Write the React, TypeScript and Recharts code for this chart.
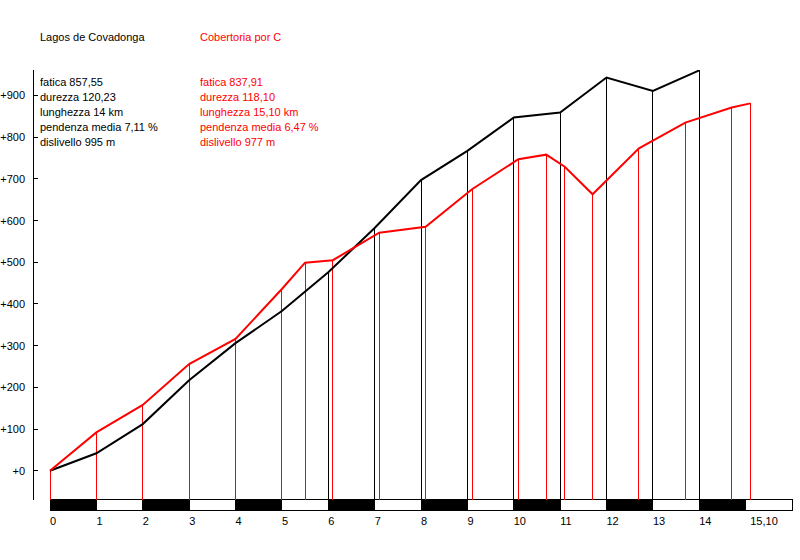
import React from "react";
import { LineChart, Line, XAxis, YAxis, ReferenceLine, ReferenceArea } from "recharts";

// Lagos de Covadonga (black)
const blackKm = [0, 1, 2, 3, 4, 5, 6, 7, 8, 9, 10, 11, 12, 13, 14];
const blackAlt = [0, 42, 112, 217, 306, 383, 476, 582, 697, 767, 847, 859, 943, 911, 960];

// Cobertoria por C (red)
const redKm = [0, 1, 2, 3, 4, 5, 5.5, 6.1, 7.1, 8.1, 9.1, 10.1, 10.7, 11.1, 11.7, 12.7, 13.7, 14.7, 15.1];
const redAlt = [0, 92, 158, 256, 316, 436, 499, 505, 571, 585, 675, 747, 758, 729, 663, 773, 835, 871, 881];

const xTicks = [0, 1, 2, 3, 4, 5, 6, 7, 8, 9, 10, 11, 12, 13, 14, 15.1];
const xTickLabels = ["0", "1", "2", "3", "4", "5", "6", "7", "8", "9", "10", "11", "12", "13", "14", "15,10"];
const yTicks = [0, 100, 200, 300, 400, 500, 600, 700, 800, 900];
const scaleSegments = [0, 1, 2, 3, 4, 5, 6, 7, 8, 9, 10, 11, 12, 13, 14, 15];

const blackTitle = "Lagos de Covadonga";
const redTitle = "Cobertoria por C";
const blackStats = ["fatica 857,55", "durezza 120,23", "lunghezza 14 km", "pendenza media 7,11 %", "dislivello 995 m"];
const redStats = ["fatica 837,91", "durezza 118,10", "lunghezza 15,10 km", "pendenza media 6,47 %", "dislivello 977 m"];

const X_MIN = -0.3666;
const X_MAX = 16;
const Y_MIN = -94;
const Y_MAX = 961;
const BAR_TOP = -70;

const FONT = "'Liberation Sans', Arial, sans-serif";
const RED = "#ff0000";

const blackData = blackKm.map((k, i) => ({ km: k, alt: blackAlt[i] }));
const redData = redKm.map((k, i) => ({ km: k, alt: redAlt[i] }));
// black drop lines hidden where a red drop line sits at the same distance
const blackDrops = blackData.filter((d) => !redKm.includes(d.km));

const YTick = (props: any) => {
  const { x, y, payload } = props;
  return (
    <g>
      <line x1={x} y1={y} x2={x + 5} y2={y} stroke="#000" strokeWidth={1} shapeRendering="crispEdges" />
      <text x={x - 8} y={y + 4} textAnchor="end" fontSize={11} fontFamily={FONT} fill="#000">
        {"+" + payload.value}
      </text>
    </g>
  );
};

const XTick = (props: any) => {
  const { x, y, payload } = props;
  const idx = xTicks.indexOf(payload.value);
  return (
    <text x={x} y={y + 15} textAnchor="start" fontSize={11} fontFamily={FONT} fill="#000">
      {xTickLabels[idx]}
    </text>
  );
};

export default function App() {
  return (
    <div style={{ position: "absolute", left: 0, top: 0, width: 800, height: 560, background: "#fff" }}>
      <LineChart
        width={800}
        height={560}
        margin={{ top: 70, right: 8, bottom: 30, left: 0 }}
      >
        <XAxis
          type="number"
          dataKey="km"
          domain={[X_MIN, X_MAX]}
          ticks={xTicks}
          axisLine={false}
          tickLine={false}
          tickSize={0}
          tickMargin={0}
          height={20}
          tick={<XTick />}
          interval={0}
          allowDataOverflow
        />
        <YAxis
          type="number"
          domain={[Y_MIN, Y_MAX]}
          ticks={yTicks}
          axisLine={false}
          tickLine={false}
          tickSize={0}
          tickMargin={0}
          width={33}
          tick={<YTick />}
          interval={0}
          allowDataOverflow
        />
        {scaleSegments.map((k) => (
          <ReferenceArea
            key={"seg" + k}
            x1={k}
            x2={k + 1}
            y1={Y_MIN}
            y2={BAR_TOP}
            fill={k % 2 === 0 ? "#000" : "#fff"}
            fillOpacity={1}
            stroke="#000"
            strokeWidth={1}
            shapeRendering="crispEdges"
            ifOverflow="visible"
          />
        ))}
        <ReferenceLine
          segment={[{ x: X_MIN, y: BAR_TOP }, { x: X_MIN, y: Y_MAX }]}
          stroke="#000"
          strokeWidth={1}
          shapeRendering="crispEdges"
          ifOverflow="visible"
        />
        {blackDrops.map((d) => (
          <ReferenceLine
            key={"bv" + d.km}
            segment={[{ x: d.km, y: BAR_TOP }, { x: d.km, y: d.alt }]}
            stroke="#000"
            strokeWidth={1}
            shapeRendering="crispEdges"
            ifOverflow="visible"
          />
        ))}
        {redData.map((d) => (
          <ReferenceLine
            key={"rv" + d.km}
            segment={[{ x: d.km, y: BAR_TOP }, { x: d.km, y: d.alt }]}
            stroke={RED}
            strokeWidth={1}
            shapeRendering="crispEdges"
            ifOverflow="visible"
          />
        ))}
        <Line
          data={blackData}
          dataKey="alt"
          type="linear"
          stroke="#000"
          strokeWidth={2}
          dot={false}
          activeDot={false}
          isAnimationActive={false}
        />
        <Line
          data={redData}
          dataKey="alt"
          type="linear"
          stroke={RED}
          strokeWidth={2}
          dot={false}
          activeDot={false}
          isAnimationActive={false}
        />
      </LineChart>
      <svg
        width={800}
        height={160}
        style={{ position: "absolute", left: 0, top: 0, pointerEvents: "none" }}
      >
        <text x={40} y={41} fontSize={11} fontFamily={FONT} fill="#000">{blackTitle}</text>
        <text x={200} y={41} fontSize={11} fontFamily={FONT} fill={RED}>{redTitle}</text>
        {blackStats.map((s, i) => (
          <text key={"bs" + i} x={40} y={86 + i * 15} fontSize={11} fontFamily={FONT} fill="#000">{s}</text>
        ))}
        {redStats.map((s, i) => (
          <text key={"rs" + i} x={200} y={86 + i * 15} fontSize={11} fontFamily={FONT} fill={RED}>{s}</text>
        ))}
      </svg>
    </div>
  );
}
